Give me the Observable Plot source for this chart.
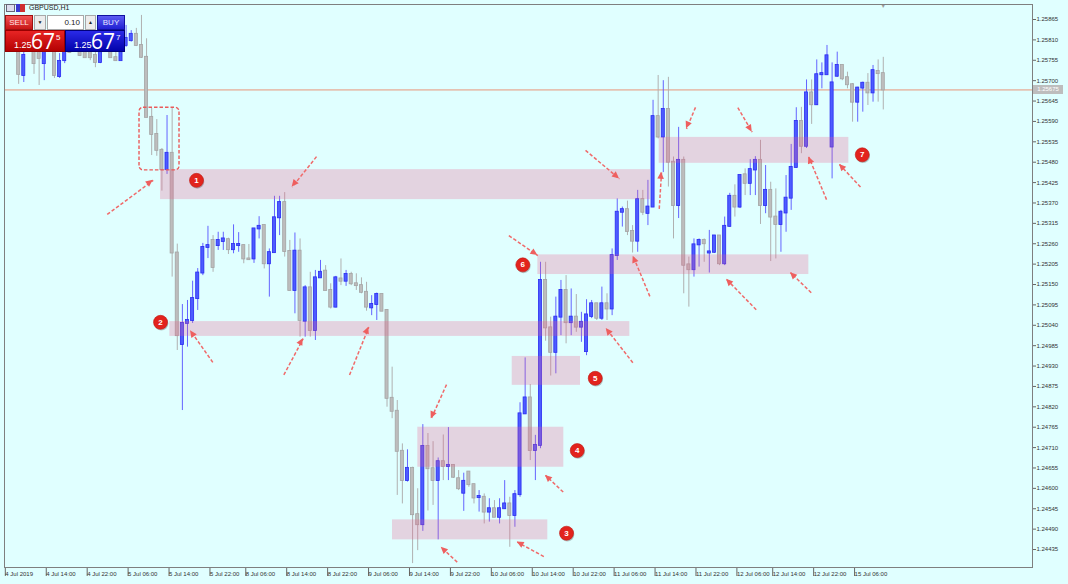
<!DOCTYPE html>
<html>
<head>
<meta charset="utf-8">
<script src="https://cdn.jsdelivr.net/npm/d3@7"></script>
<script src="https://cdn.jsdelivr.net/npm/@observablehq/plot@0.6"></script>
<style>
  html, body { margin:0; padding:0; background:#e0ffff; }
  #wrap { position:relative; width:1068px; height:584px; overflow:hidden; background:#e0ffff; font-family:"Liberation Sans", Arial, sans-serif; }
  #wrap svg { position:absolute; left:0; top:0; }
  .abs { position:absolute; box-sizing:border-box; }
  .hdr { left:29px; top:4px; font-size:7px; line-height:8px; color:#222; }
  .ic1 { left:6px; top:4px; width:9px; height:8px; border:1px solid #667; background:#dde; }
  .ic2 { left:16px; top:4px; width:9px; height:8px; background:linear-gradient(90deg,#3a3ad0 0 50%,#d03030 50% 100%); }
  .btn { top:15px; height:15px; font-size:8px; line-height:13px; text-align:center; overflow:hidden; }
  .sell { left:5px; width:28px; background:linear-gradient(#f25454,#c81616); color:#ffe6e6; border:1px solid #a01010; }
  .dd { left:34px; width:12px; background:#ececec; border:1px solid #a8a8a8; color:#222; font-size:5px; }
  .lot { left:47px; width:37px; background:#fff; border:1px solid #a8a8a8; color:#222; text-align:right; padding-right:3px; }
  .up { left:85px; width:11px; background:#ececec; border:1px solid #a8a8a8; color:#222; font-size:5px; }
  .buy { left:97px; width:28px; background:linear-gradient(#5c5cf2,#2020d2); color:#e6e6ff; border:1px solid #1010a0; }
  .pbox { top:30px; height:22px; color:#fff; }
  .bid { left:5px; width:60px; background:linear-gradient(#e82424,#b40202); border:1px solid #900; }
  .ask { left:65px; width:60px; background:linear-gradient(#2a2ae8,#0202aa); border:1px solid #00007a; }
  .sm { position:absolute; left:8px; top:9px; font-size:9px; line-height:10px; }
  .bg { position:absolute; left:25px; top:0px; font-size:21px; line-height:20px; font-family:"Open Sans","Liberation Sans",sans-serif; }
  .sp { position:absolute; left:50px; top:2px; font-size:8px; line-height:9px; }
  .plabel { left:1033px; width:30px; height:9px; background:#bdbdbd; color:#fff; font-size:6px; line-height:9px; text-align:center; }
</style>
</head>
<body>
<div id="wrap"></div>
<script>
// ---------- data ----------
const firstBar = -22;
const high = [
1.25835,1.25808,1.25795,1.25814,1.25795,1.25808,1.25795,1.25808,1.25803,1.25773,
1.25795,1.25808,1.25814,1.25808,1.25803,1.25798,1.25795,1.25798,1.25808,1.25803,
1.25781,1.25808,1.25849,1.25835,1.25841,1.25876,1.25813,1.25625,1.25595,1.25517,
1.25606,1.25625,1.25259,1.25096,1.25107,1.25159,1.25193,1.25261,1.25307,1.25282,
1.25291,1.25291,1.25275,1.25311,1.25290,1.25256,1.25258,1.25301,1.25333,1.25310,
1.25246,1.25388,1.25388,1.25398,1.25269,1.25289,1.25273,1.25147,1.25183,1.25188,
1.25215,1.25201,1.25152,1.25172,1.25219,1.25188,1.25183,1.25179,1.25168,1.25156,
1.25120,1.25127,1.25124,1.25082,1.24927,1.24837,1.24720,1.24704,1.24657,1.24599,
1.24772,1.24748,1.24726,1.24682,1.24744,1.24764,1.24663,1.24648,1.24641,1.24645,
1.24611,1.24594,1.24585,1.24572,1.24567,1.24572,1.24621,1.24576,1.24594,1.24831,
1.24952,1.24880,1.24743,1.25210,1.25210,1.25062,1.25116,1.25161,1.25174,1.25138,
1.25123,1.25075,1.25109,1.25107,1.25099,1.25143,1.25125,1.25246,1.25381,1.25359,
1.25375,1.25309,1.25404,1.25404,1.25431,1.25647,1.25714,1.25700,1.25709,1.25494,
1.25574,1.25494,1.25224,1.25273,1.25273,1.25273,1.25296,1.25282,1.25282,1.25332,
1.25396,1.25419,1.25445,1.25462,1.25487,1.25495,1.25539,1.25471,1.25426,1.25408,
1.25350,1.25444,1.25528,1.25627,1.25628,1.25702,1.25702,1.25756,1.25748,1.25795,
1.25748,1.25777,1.25742,1.25723,1.25692,1.25682,1.25696,1.25719,1.25741,1.25756,1.25763];
const open = [
1.25822,1.25781,1.25714,1.25795,1.25781,1.25776,1.25746,1.25781,1.25787,1.25711,
1.25754,1.25787,1.25781,1.25787,1.25781,1.25776,1.25768,1.25749,1.25781,1.25790,
1.25762,1.25754,1.25795,1.25808,1.25825,1.25795,1.25763,1.25601,1.25555,1.25512,
1.25460,1.25504,1.25235,1.24988,1.25045,1.25053,1.25112,1.25181,1.25250,1.25269,
1.25255,1.25266,1.25271,1.25244,1.25255,1.25255,1.25219,1.25219,1.25300,1.25309,
1.25206,1.25236,1.25330,1.25371,1.25239,1.25134,1.25240,1.25051,1.25141,1.25026,
1.25168,1.25186,1.25134,1.25089,1.25165,1.25159,1.25177,1.25152,1.25147,1.25129,
1.25087,1.25096,1.25123,1.25080,1.24843,1.24808,1.24700,1.24621,1.24654,1.24529,
1.24502,1.24713,1.24653,1.24621,1.24672,1.24659,1.24662,1.24626,1.24587,1.24644,
1.24610,1.24575,1.24576,1.24536,1.24545,1.24522,1.24545,1.24558,1.24527,1.24583,
1.24801,1.24844,1.24702,1.24716,1.25161,1.25033,1.24967,1.25062,1.25134,1.25047,
1.25062,1.25035,1.24969,1.25064,1.25098,1.25059,1.25098,1.25084,1.25228,1.25345,
1.25352,1.25293,1.25267,1.25379,1.25342,1.25359,1.25603,1.25548,1.25622,1.25480,
1.25363,1.25485,1.25203,1.25190,1.25257,1.25269,1.25235,1.25237,1.25281,1.25206,
1.25307,1.25388,1.25359,1.25446,1.25423,1.25459,1.25485,1.25363,1.25404,1.25332,
1.25312,1.25343,1.25383,1.25466,1.25590,1.25523,1.25667,1.25635,1.25716,1.25716,
1.25521,1.25712,1.25741,1.25708,1.25689,1.25642,1.25680,1.25693,1.25667,1.25725,1.25719];
const close = [
1.25795,1.25717,1.25768,1.25781,1.25746,1.25760,1.25781,1.25798,1.25714,1.25752,
1.25781,1.25776,1.25798,1.25768,1.25762,1.25762,1.25749,1.25781,1.25795,1.25762,
1.25754,1.25795,1.25814,1.25825,1.25795,1.25763,1.25601,1.25555,1.25512,1.25460,
1.25504,1.25235,1.25012,1.25045,1.25053,1.25112,1.25181,1.25250,1.25255,1.25196,
1.25269,1.25273,1.25244,1.25258,1.25258,1.25219,1.25217,1.25300,1.25307,1.25206,
1.25236,1.25330,1.25371,1.25239,1.25134,1.25240,1.25053,1.25141,1.25026,1.25168,
1.25183,1.25134,1.25089,1.25168,1.25159,1.25177,1.25152,1.25147,1.25129,1.25089,
1.25096,1.25123,1.25078,1.24843,1.24808,1.24700,1.24621,1.24654,1.24529,1.24502,
1.24713,1.24653,1.24621,1.24672,1.24659,1.24662,1.24630,1.24599,1.24619,1.24610,
1.24574,1.24578,1.24536,1.24545,1.24522,1.24545,1.24558,1.24527,1.24583,1.24801,
1.24844,1.24702,1.24716,1.25161,1.25033,1.24967,1.25062,1.25134,1.25047,1.25062,
1.25035,1.25048,1.25068,1.25098,1.25059,1.25098,1.25084,1.25228,1.25345,1.25352,
1.25293,1.25267,1.25379,1.25345,1.25359,1.25603,1.25548,1.25622,1.25480,1.25363,
1.25485,1.25202,1.25190,1.25257,1.25269,1.25260,1.25238,1.25281,1.25206,1.25307,
1.25388,1.25359,1.25444,1.25423,1.25460,1.25485,1.25363,1.25404,1.25332,1.25312,
1.25345,1.25383,1.25466,1.25590,1.25523,1.25667,1.25635,1.25716,1.25719,1.25767,
1.25694,1.25741,1.25705,1.25689,1.25642,1.25680,1.25693,1.25667,1.25727,1.25719,1.25675];
const low = [
1.25781,1.25690,1.25695,1.25776,1.25717,1.25687,1.25700,1.25776,1.25706,1.25706,
1.25746,1.25773,1.25776,1.25765,1.25762,1.25754,1.25735,1.25746,1.25776,1.25762,
1.25752,1.25754,1.25790,1.25804,1.25792,1.25760,1.25600,1.25498,1.25496,1.25402,
1.25447,1.25170,1.24972,1.24810,1.24981,1.25045,1.25080,1.25174,1.25220,1.25183,
1.25242,1.25242,1.25231,1.25233,1.25237,1.25206,1.25215,1.25207,1.25273,1.25192,
1.25116,1.25235,1.25282,1.25224,1.25133,1.25071,1.25008,1.25008,1.25008,1.24999,
1.25167,1.25133,1.25084,1.25087,1.25147,1.25145,1.25147,1.25134,1.25125,1.25078,
1.25066,1.25053,1.25077,1.24819,1.24788,1.24581,1.24558,1.24617,1.24397,1.24432,
1.24484,1.24539,1.24554,1.24461,1.24621,1.24621,1.24627,1.24594,1.24538,1.24603,
1.24558,1.24536,1.24504,1.24509,1.24521,1.24504,1.24544,1.24441,1.24495,1.24576,
1.24800,1.24675,1.24621,1.24707,1.24997,1.24903,1.24909,1.25012,1.24990,1.25012,
1.25021,1.24994,1.24958,1.25058,1.25053,1.25053,1.25053,1.25066,1.25215,1.25305,
1.25282,1.25235,1.25237,1.25336,1.25309,1.25358,1.25543,1.25452,1.25413,1.25273,
1.25328,1.25125,1.25089,1.25170,1.25197,1.25210,1.25181,1.25234,1.25201,1.25201,
1.25304,1.25332,1.25355,1.25390,1.25390,1.25390,1.25312,1.25341,1.25212,1.25219,
1.25237,1.25291,1.25350,1.25463,1.25503,1.25517,1.25582,1.25633,1.25678,1.25715,
1.25435,1.25709,1.25700,1.25678,1.25588,1.25588,1.25615,1.25633,1.25642,1.25642,1.25621];

const currentBid = 1.25675;
const currentAsk = 1.25677;
const lotSize = "0.10";

const yTicks = [1.24435,1.24490,1.24545,1.24600,1.24655,1.24710,1.24765,1.24820,1.24875,1.24930,
  1.24985,1.25040,1.25095,1.25150,1.25205,1.25260,1.25315,1.25370,1.25425,1.25480,1.25535,
  1.25590,1.25645,1.25700,1.25755,1.25810,1.25865];

const timeLabels = ["4 Jul 2019","4 Jul 14:00","4 Jul 22:00","5 Jul 06:00","5 Jul 14:00","5 Jul 22:00",
  "8 Jul 06:00","8 Jul 14:00","8 Jul 22:00","9 Jul 06:00","9 Jul 14:00","9 Jul 22:00","10 Jul 06:00",
  "10 Jul 14:00","10 Jul 22:00","11 Jul 06:00","11 Jul 14:00","11 Jul 22:00","12 Jul 06:00",
  "12 Jul 14:00","12 Jul 22:00","15 Jul 06:00"];
const timeTickBars = [-24,-16,-8,0,8,16,23,31,39,47,55,63,71,79,87,95,103,111,119,126,134,142];

// zones (bar index span, price span)
const zoneStart = [6.73, 8.55, 52.07, 57.02, 75.47, 80.48, 104.2];
const zoneEnd   = [102.5, 98.46, 82.43, 85.56, 88.82, 133.45, 141.27];
const zoneLow   = [1.25379, 1.25010, 1.24461, 1.24657, 1.24878, 1.25177, 1.25477];
const zoneHigh  = [1.25460, 1.25050, 1.24515, 1.24765, 1.24956, 1.25230, 1.25547];

// numbered badges
const badgeLabel = ["1","2","3","4","5","6","7"];
const badgeBar   = [13.76, 6.73, 86.09, 88.18, 91.70, 77.54, 143.89];
const badgePrice = [1.25431, 1.25048, 1.24479, 1.24702, 1.24897, 1.25203, 1.25500];

// dashed arrows: tail -> tip
const arrowFromBar   = [-3.69, 37.22, 16.95, 30.83, 43.67, 62.63, 64.72, 81.65, 85.44, 74.81, 99.05, 89.80, 102.37, 104.21, 111.30, 119.57, 123.17, 133.92, 136.91, 143.55];
const arrowFromPrice = [1.25339, 1.25495, 1.24940, 1.24906, 1.24906, 1.24880, 1.24401, 1.24416, 1.24590, 1.25282, 1.24939, 1.25512, 1.25118, 1.25354, 1.25628, 1.25627, 1.25082, 1.25128, 1.25379, 1.25413];
const arrowToBar     = [5.30, 32.47, 12.59, 34.62, 47.44, 59.64, 61.59, 76.45, 81.98, 80.48, 93.85, 96.45, 99.12, 104.66, 109.54, 122.38, 117.36, 129.87, 133.45, 139.45];
const arrowToPrice   = [1.25431, 1.25413, 1.25025, 1.25004, 1.25035, 1.24788, 1.24441, 1.24455, 1.24635, 1.25228, 1.25031, 1.25435, 1.25226, 1.25453, 1.25570, 1.25561, 1.25164, 1.25182, 1.25494, 1.25474];

// dashed highlight box around the pattern
const boxBars = [2.62, 10.44];
const boxPrices = [1.25458, 1.25627];

// ---------- build tables ----------
const candles = high.map((h, i) => ({
  k: firstBar + i, high: h, open: open[i], close: close[i], low: low[i],
  up: close[i] >= open[i]
}));
const zones = zoneStart.map((s, i) => ({x1: s, x2: zoneEnd[i], y1: zoneLow[i], y2: zoneHigh[i]}));
const badges = badgeLabel.map((t, i) => ({t, k: badgeBar[i], p: badgePrice[i]}));
const arrows = arrowFromBar.map((k1, i) => ({k1, p1: arrowFromPrice[i], k2: arrowToBar[i], p2: arrowToPrice[i]}));
const labelOf = new Map(timeTickBars.map((b, i) => [b, timeLabels[i]]));

const BLUE_FILL = "#4c5cff", BLUE_LINE = "#2a2af2", BLUE_WICK = "#6464ff";
const GRAY_FILL = "#bdbdbd", GRAY_LINE = "#a4a4a4", GRAY_WICK = "#b0b0b0";

const chart = Plot.plot({
  width: 1068, height: 584,
  marginLeft: 4, marginRight: 36, marginTop: 4, marginBottom: 17,
  style: {background: "transparent", fontFamily: "Liberation Sans, Arial, sans-serif", color: "#333", overflow: "visible"},
  x: {domain: [-23.77, 177.17]},
  y: {domain: [1.243865, 1.259055]},
  color: {type: "identity"},
  marks: [
    Plot.ruleY([currentBid], {stroke: "#e8967a", strokeWidth: 1}),
    Plot.ruleX(candles, {x: "k", y1: "low", y2: "high", stroke: d => d.up ? BLUE_WICK : GRAY_WICK, strokeWidth: 1}),
    Plot.rect(candles, {
      x1: d => d.k - 0.3, x2: d => d.k + 0.3,
      y1: d => Math.min(d.open, d.close), y2: d => Math.max(d.open, d.close),
      fill: d => d.up ? BLUE_FILL : GRAY_FILL, stroke: d => d.up ? BLUE_LINE : GRAY_LINE,
      strokeWidth: 0.8, insetTop: -0.5, insetBottom: -0.5
    }),
    Plot.rect(zones, {x1: "x1", x2: "x2", y1: "y1", y2: "y2", fill: "#ee5c8c", fillOpacity: 0.27}),
    Plot.rect([0], {x1: boxBars[0], x2: boxBars[1], y1: boxPrices[0], y2: boxPrices[1], fill: "none",
      stroke: "#ea5a5a", strokeWidth: 1.4, strokeDasharray: "3.5,2", rx: 4}),
    Plot.link(arrows, {x1: "k1", y1: "p1", x2: "k2", y2: "p2", stroke: "#f06a6a", strokeWidth: 1.5, strokeDasharray: "3.5,2"}),
    Plot.dot(badges, {x: "k", y: "p", r: 7, fill: "rgba(0,0,0,0.22)", dx: 0.8, dy: 1.3}),
    Plot.dot(badges, {x: "k", y: "p", r: 7, fill: "#e2231d", stroke: "#c01812", strokeWidth: 0.6}),
    Plot.text(badges, {x: "k", y: "p", text: "t", fill: "white", fontSize: 8, fontWeight: "bold"}),
    Plot.text(["\u25BC"], {x: 148, frameAnchor: "top", dy: -1, fontSize: 6, fill: "#9a9a9a"}),
    Plot.axisY(yTicks, {anchor: "right", tickSize: 3, tickPadding: 1, tickFormat: d3.format(".5f"),
      fontSize: 6, stroke: "#666", fill: "#333", label: null}),
    Plot.axisX(timeTickBars, {anchor: "bottom", tickSize: 9, tickPadding: -5, textAnchor: "start", dx: 2,
      tickFormat: d => labelOf.get(d), fontSize: 6, stroke: "#666", fill: "#333", label: null}),
    Plot.frame({stroke: "#7f7f7f"})
  ]
});

const wrap = document.getElementById("wrap");
wrap.appendChild(chart);

// arrowheads through the plot's scales
const xs = chart.scale("x"), ys = chart.scale("y");
const heads = d3.select(chart).append("g").attr("fill", "#ee5f5f");
arrows.forEach(a => {
  const x1 = xs.apply(a.k1), y1 = ys.apply(a.p1), x2 = xs.apply(a.k2), y2 = ys.apply(a.p2);
  const ang = Math.atan2(y2 - y1, x2 - x1);
  const L = 7, W = 3.3;
  const bx = x2 - L * Math.cos(ang), by = y2 - L * Math.sin(ang);
  const px = -Math.sin(ang) * W, py = Math.cos(ang) * W;
  heads.append("path").attr("d", `M${x2},${y2}L${bx + px},${by + py}L${bx - px},${by - py}Z`);
});

// overlays: header + one-click trading panel + price label
function el(cls, html, style) {
  const d = document.createElement("div");
  d.className = "abs " + cls;
  if (html != null) d.innerHTML = html;
  if (style) Object.assign(d.style, style);
  wrap.appendChild(d);
  return d;
}
function priceParts(p) {
  const s = p.toFixed(5);            // "1.25675"
  return `<span class="sm">${s.slice(0,4)}</span><span class="bg">${s.slice(4,6)}</span><span class="sp">${s.slice(6)}</span>`;
}
el("ic1", "");
el("ic2", "");
el("hdr", "GBPUSD,H1");
el("btn sell", "SELL");
el("btn dd", "\u25BC");
el("btn lot", lotSize);
el("btn up", "\u25B2");
el("btn buy", "BUY");
el("pbox bid", priceParts(currentBid));
el("pbox ask", priceParts(currentAsk));
el("plabel", currentBid.toFixed(5), {top: (ys.apply(currentBid) - 4.5) + "px"});
</script>
</body>
</html>
